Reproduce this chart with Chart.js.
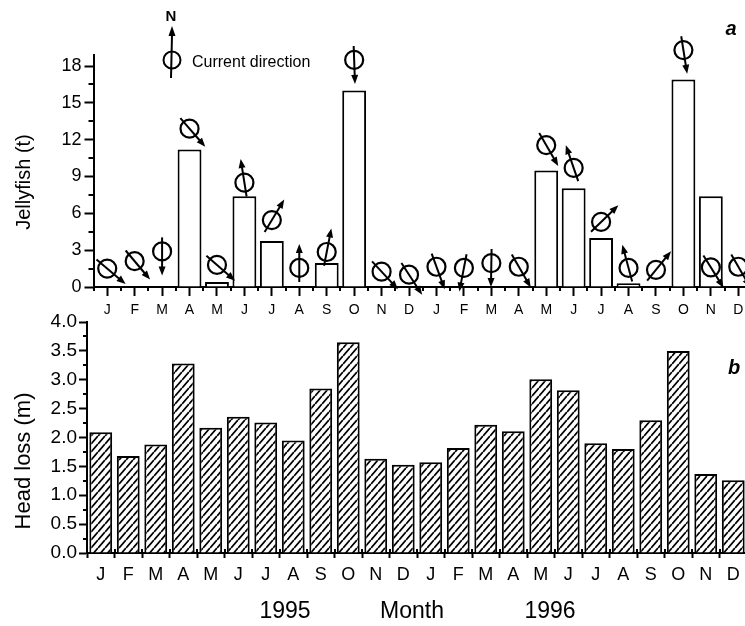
<!DOCTYPE html>
<html>
<head>
<meta charset="utf-8">
<script src="https://cdn.jsdelivr.net/npm/chart.js@4.4.1/dist/chart.umd.min.js"></script>
<style>
  html, body { margin: 0; padding: 0; background: #fff; overflow: hidden; }
  body { width: 745px; height: 626px; position: relative; font-family: "Liberation Sans", Arial, sans-serif; color: #000; }
  canvas { position: absolute; left: 0; }
  #jellyChart { top: 0; }
  #headChart { top: 300px; }
  .txt { position: absolute; white-space: nowrap; line-height: 1; transform: translate(-50%, -50%); }
  .ytitle { transform: translate(-50%, -50%) rotate(-90deg); }
  .panel { font-weight: bold; font-style: italic; }
  #legendMark { position: absolute; left: 155px; top: 20px; }
</style>
</head>
<body>
<canvas id="jellyChart" width="760" height="320"></canvas>
<canvas id="headChart" width="760" height="326"></canvas>

<div class="txt" style="left:171px; top:15px; font-size:15px; font-weight:bold;">N</div>
<svg id="legendMark" width="35" height="65">
  <circle cx="17" cy="40" r="8.5" fill="none" stroke="#000" stroke-width="2"/>
  <line x1="16" y1="58" x2="17" y2="15" stroke="#000" stroke-width="2"/>
  <polygon points="17,6 13.5,16 20.5,16" fill="#000"/>
</svg>
<div class="txt" style="left:192px; top:62px; font-size:16px; transform:translate(0,-50%);">Current direction</div>
<div class="txt panel" style="left:731px; top:28px; font-size:20px;">a</div>
<div class="txt panel" style="left:734px; top:367px; font-size:20px;">b</div>
<div class="txt ytitle" style="left:23px; top:182px; font-size:20px;">Jellyfish (t)</div>
<div class="txt ytitle" style="left:23px; top:461px; font-size:22px;">Head loss (m)</div>
<div class="txt" style="left:285px; top:610px; font-size:23px;">1995</div>
<div class="txt" style="left:412px; top:610px; font-size:23px;">Month</div>
<div class="txt" style="left:550px; top:610px; font-size:23px;">1996</div>

<script>
const FONT = "'Liberation Sans', Arial, sans-serif";

// Jan 1995 .. Dec 1996
const months = ["J", "F", "M", "A", "M", "J", "J", "A", "S", "O", "N", "D",
                "J", "F", "M", "A", "M", "J", "J", "A", "S", "O", "N", "D"];
const jellyfish = [0, 0, 0, 11.2, 0.4, 7.4, 3.75, 0, 1.95, 16.0, 0, 0,
                   0, 0, 0, 0, 9.5, 8.05, 4.0, 0.3, 0, 16.9, 7.4, 0];
const headLoss = [2.09, 1.68, 1.88, 3.28, 2.17, 2.36, 2.26, 1.95, 2.85, 3.65, 1.63, 1.53,
                  1.57, 1.82, 2.22, 2.11, 3.01, 2.82, 1.90, 1.80, 2.30, 3.50, 1.37, 1.26];
// current direction (degrees from north) and the level where its symbol sits
const currentDir = [130, 140, 180, 139, 131, 351, 31, 0, 11, 178, 137, 147,
                    160, 191, 181, 150, 150, 341, 46, 345, 39, 171, 148, 150];
const markerLevel = [1.5, 2.1, 2.9, 12.9, 1.8, 8.5, 5.45, 1.55, 2.85, 18.5, 1.25, 1.0,
                     1.65, 1.55, 1.95, 1.65, 11.55, 9.7, 5.3, 1.55, 1.4, 19.3, 1.6, 1.65];
const jellyTicks = [0, 3, 6, 9, 12, 15, 18];
const jellyMinor = [1.5, 4.5, 7.5, 10.5, 13.5, 16.5];
const headTicks = [0, 0.5, 1, 1.5, 2, 2.5, 3, 3.5, 4];
const headMinor = [0.25, 0.75, 1.25, 1.75, 2.25, 2.75, 3.25, 3.75];

function hatch() {
  const w = 7, h = 8;
  const c = document.createElement("canvas");
  c.width = w; c.height = h;
  const g = c.getContext("2d");
  g.fillStyle = "#fff";
  g.fillRect(0, 0, w, h);
  g.strokeStyle = "#000";
  g.lineWidth = 1.8;
  g.beginPath();
  g.moveTo(0, h); g.lineTo(w, 0);
  g.moveTo(0, 2 * h); g.lineTo(w, h);
  g.moveTo(0, 0); g.lineTo(w, -h);
  g.stroke();
  return g.createPattern(c, "repeat");
}

function drawCompass(ctx, cx, cy, deg) {
  const a = deg * Math.PI / 180;
  const dx = Math.sin(a), dy = -Math.cos(a);
  const tx = cx + dx * 24, ty = cy + dy * 24;
  ctx.lineWidth = 2.2;
  ctx.beginPath();
  ctx.arc(cx, cy, 9, 0, 2 * Math.PI);
  ctx.stroke();
  ctx.lineWidth = 2;
  ctx.beginPath();
  ctx.moveTo(cx - dx * 14, cy - dy * 14);
  ctx.lineTo(tx - dx * 6, ty - dy * 6);
  ctx.stroke();
  ctx.beginPath();
  ctx.moveTo(tx, ty);
  ctx.lineTo(tx - dx * 9 - dy * 3.5, ty - dy * 9 + dx * 3.5);
  ctx.lineTo(tx - dx * 9 + dy * 3.5, ty - dy * 9 - dx * 3.5);
  ctx.closePath();
  ctx.fill();
}

// short ticks that Chart.js can't vary per tick
const minorTicks = {
  id: "minorTicks",
  afterDraw(chart, args, opts) {
    const { ctx } = chart;
    const x = chart.scales.x, y = chart.scales.y;
    ctx.save();
    ctx.strokeStyle = "#000";
    ctx.lineWidth = 2;
    ctx.beginPath();
    opts.yValues.forEach((v) => {
      const p = Math.round(y.getPixelForValue(v));
      ctx.moveTo(y.right - opts.yLen, p);
      ctx.lineTo(y.right, p);
    });
    if (opts.xLen || opts.xUp) {
      for (let i = 0; i <= months.length; i++) {
        const p = Math.round(x.getPixelForValue(i - 0.5));
        ctx.moveTo(p, x.top - opts.xUp);
        ctx.lineTo(p, x.top + opts.xLen);
      }
    }
    ctx.stroke();
    ctx.restore();
  }
};

const currentMarkers = {
  id: "currentMarkers",
  afterDatasetsDraw(chart) {
    const { ctx } = chart;
    const x = chart.scales.x, y = chart.scales.y;
    ctx.save();
    ctx.strokeStyle = "#000";
    ctx.fillStyle = "#000";
    currentDir.forEach((deg, i) => {
      drawCompass(ctx, x.getPixelForValue(i), y.getPixelForValue(markerLevel[i]), deg);
    });
    ctx.restore();
  }
};

function axisGrid(len, offset) {
  return { display: true, drawOnChartArea: false, offset: offset, tickLength: len, tickColor: "#000", tickWidth: 2 };
}
const axisBorder = { color: "#000", width: 2 };

new Chart(document.getElementById("jellyChart"), {
  type: "bar",
  data: {
    labels: months,
    datasets: [{
      data: jellyfish,
      backgroundColor: "#fff",
      borderColor: "#000",
      borderWidth: 2,
      barPercentage: 0.87,
      categoryPercentage: 1
    }]
  },
  options: {
    responsive: false,
    animation: false,
    devicePixelRatio: 1,
    layout: { padding: { left: 0, right: 8, top: 55, bottom: 0 } },
    plugins: {
      legend: { display: false },
      tooltip: { enabled: false },
      minorTicks: { yValues: jellyMinor, yLen: 5, xLen: 4, xUp: 0 }
    },
    scales: {
      x: {
        offset: true,
        grid: axisGrid(9, false),
        border: axisBorder,
        ticks: { color: "#000", font: { family: FONT, size: 14 }, padding: 6, maxRotation: 0, autoSkip: false },
        afterFit: (s) => { s.height = 33; }
      },
      y: {
        min: 0,
        max: 18.9,
        afterBuildTicks: (s) => { s.ticks = jellyTicks.map((v) => ({ value: v })); },
        grid: axisGrid(9, false),
        border: axisBorder,
        ticks: { color: "#000", font: { family: FONT, size: 18 }, padding: 3, callback: (v) => String(v) },
        afterFit: (s) => { s.width = 93.5; }
      }
    }
  },
  plugins: [minorTicks, currentMarkers]
});

new Chart(document.getElementById("headChart"), {
  type: "bar",
  data: {
    labels: months,
    datasets: [{
      data: headLoss,
      backgroundColor: hatch(),
      borderColor: "#000",
      borderWidth: 2,
      barPercentage: 0.83,
      categoryPercentage: 1
    }]
  },
  options: {
    responsive: false,
    animation: false,
    devicePixelRatio: 1,
    layout: { padding: { left: 0, right: 13, top: 22, bottom: 0 } },
    plugins: {
      legend: { display: false },
      tooltip: { enabled: false },
      minorTicks: { yValues: headMinor, yLen: 4, xLen: 0, xUp: 4 }
    },
    scales: {
      x: {
        offset: true,
        grid: axisGrid(5, true),
        border: axisBorder,
        ticks: { color: "#000", font: { family: FONT, size: 18 }, padding: 6, maxRotation: 0, autoSkip: false },
        afterFit: (s) => { s.height = 73; }
      },
      y: {
        min: 0,
        max: 4,
        afterBuildTicks: (s) => { s.ticks = headTicks.map((v) => ({ value: v })); },
        grid: axisGrid(8, false),
        border: axisBorder,
        ticks: { color: "#000", font: { family: FONT, size: 19 }, padding: 2, callback: (v) => Number(v).toFixed(1) },
        afterFit: (s) => { s.width = 87; }
      }
    }
  },
  plugins: [minorTicks]
});
</script>
</body>
</html>
